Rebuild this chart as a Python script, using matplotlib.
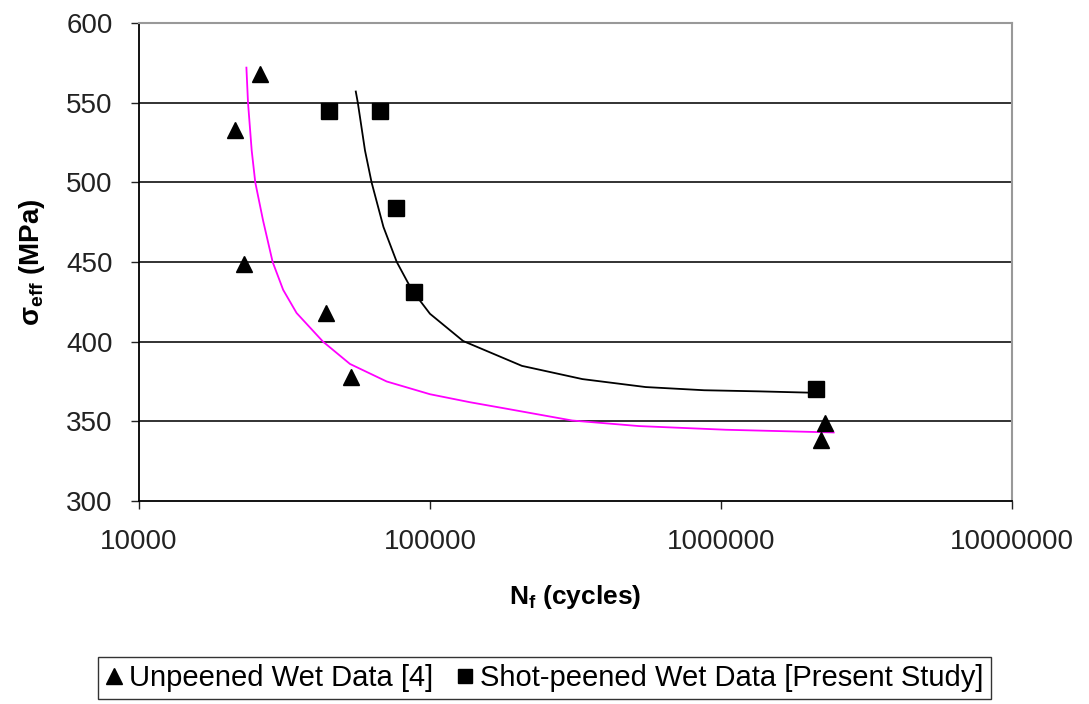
import matplotlib
matplotlib.use("Agg")
import matplotlib.pyplot as plt
from matplotlib.lines import Line2D

plt.rcParams['font.family'] = ['Liberation Sans', 'DejaVu Sans']
plt.rcParams['mathtext.fontset'] = 'custom'
plt.rcParams['mathtext.rm'] = 'Liberation Sans'
plt.rcParams['mathtext.it'] = 'Liberation Sans'
plt.rcParams['mathtext.bf'] = 'Liberation Sans:bold'

# Unpeened wet data [4]
unpeened_N = [26000, 21400, 23000, 44000, 53600, 2270000, 2210000]
unpeened_s = [568, 533, 449, 418, 378, 349, 338]

# Shot-peened wet data [present study]
peened_N = [45000, 67300, 76400, 88100, 2120000]
peened_s = [545, 545, 484, 431, 370]

# trend curves
fit_unpeened_N = [23400, 23700, 24400, 25100, 26700, 28800, 31300, 34800,
                  42900, 53100, 71000, 100000, 137000, 182000, 308000,
                  523000, 1040000, 2440000]
fit_unpeened_s = [572, 550, 520, 500, 476, 450, 432.5, 418, 400, 386,
                  375, 367, 362, 358, 350.5, 347, 344.7, 343]
fit_peened_N = [55600, 56500, 59800, 63000, 69200, 76900, 86600, 100000,
                130000, 207000, 334000, 551000, 875000, 1350000, 2000000]
fit_peened_s = [557, 550, 520, 500, 472, 450, 432.5, 417.5, 400.4, 384.8,
                376.5, 371.5, 369.5, 368.8, 368]

x_ticks = [10000, 100000, 1000000, 10000000]
y_ticks = [300, 350, 400, 450, 500, 550, 600]

fig = plt.figure(figsize=(10.89, 7.04), dpi=100)
ax = fig.add_axes([0.1276, 0.2884, 0.8017, 0.6789])

ax.set_xscale('log')
ax.set_xlim(10000, 10000000)
ax.set_ylim(300, 600)

for y in y_ticks[1:-1]:
    ax.axhline(y, color='#222222', lw=1.3, zorder=1)

ax.plot(fit_unpeened_N, fit_unpeened_s, color='#ff00ff', lw=1.3, zorder=2)
ax.plot(fit_peened_N, fit_peened_s, color='black', lw=1.3, zorder=2)
ax.plot(unpeened_N, unpeened_s, '^', color='black', markersize=12, zorder=3)
ax.plot(peened_N, peened_s, 's', color='black', markersize=11, zorder=3)

ax.set_xticks(x_ticks)
ax.set_xticklabels([str(v) for v in x_ticks])
ax.minorticks_off()
ax.set_yticks(y_ticks)
ax.tick_params(labelsize=20, length=6, width=1, colors='#222222')
ax.tick_params(axis='x', pad=14)
ax.tick_params(axis='y', pad=13)

for side in ['top', 'right']:
    ax.spines[side].set_color('#999999')
    ax.spines[side].set_linewidth(1.5)
for side in ['left', 'bottom']:
    ax.spines[side].set_color('black')
    ax.spines[side].set_linewidth(1.3)

ax.set_xlabel(r'$\mathbf{N_f}$ (cycles)', fontsize=19, fontweight='bold',
              labelpad=20)
ax.set_ylabel(r'$\mathbf{\sigma_{eff}}$ (MPa)', fontsize=20, fontweight='bold',
              labelpad=14)

handles = [
    Line2D([], [], marker='^', color='black', ls='none', markersize=11),
    Line2D([], [], marker='s', color='black', ls='none', markersize=10),
]
labels = ['Unpeened Wet Data [4]', 'Shot-peened Wet Data [Present Study]']
leg = fig.legend(handles, labels, loc='center', bbox_to_anchor=(0.5, 0.037),
                 ncol=2, fontsize=21, frameon=True, fancybox=False,
                 edgecolor='black', handlelength=0.6, handletextpad=0.2,
                 columnspacing=0.8, borderpad=0.25, borderaxespad=0)
leg.get_frame().set_linewidth(1.0)

fig.savefig('out.png', dpi=100)
